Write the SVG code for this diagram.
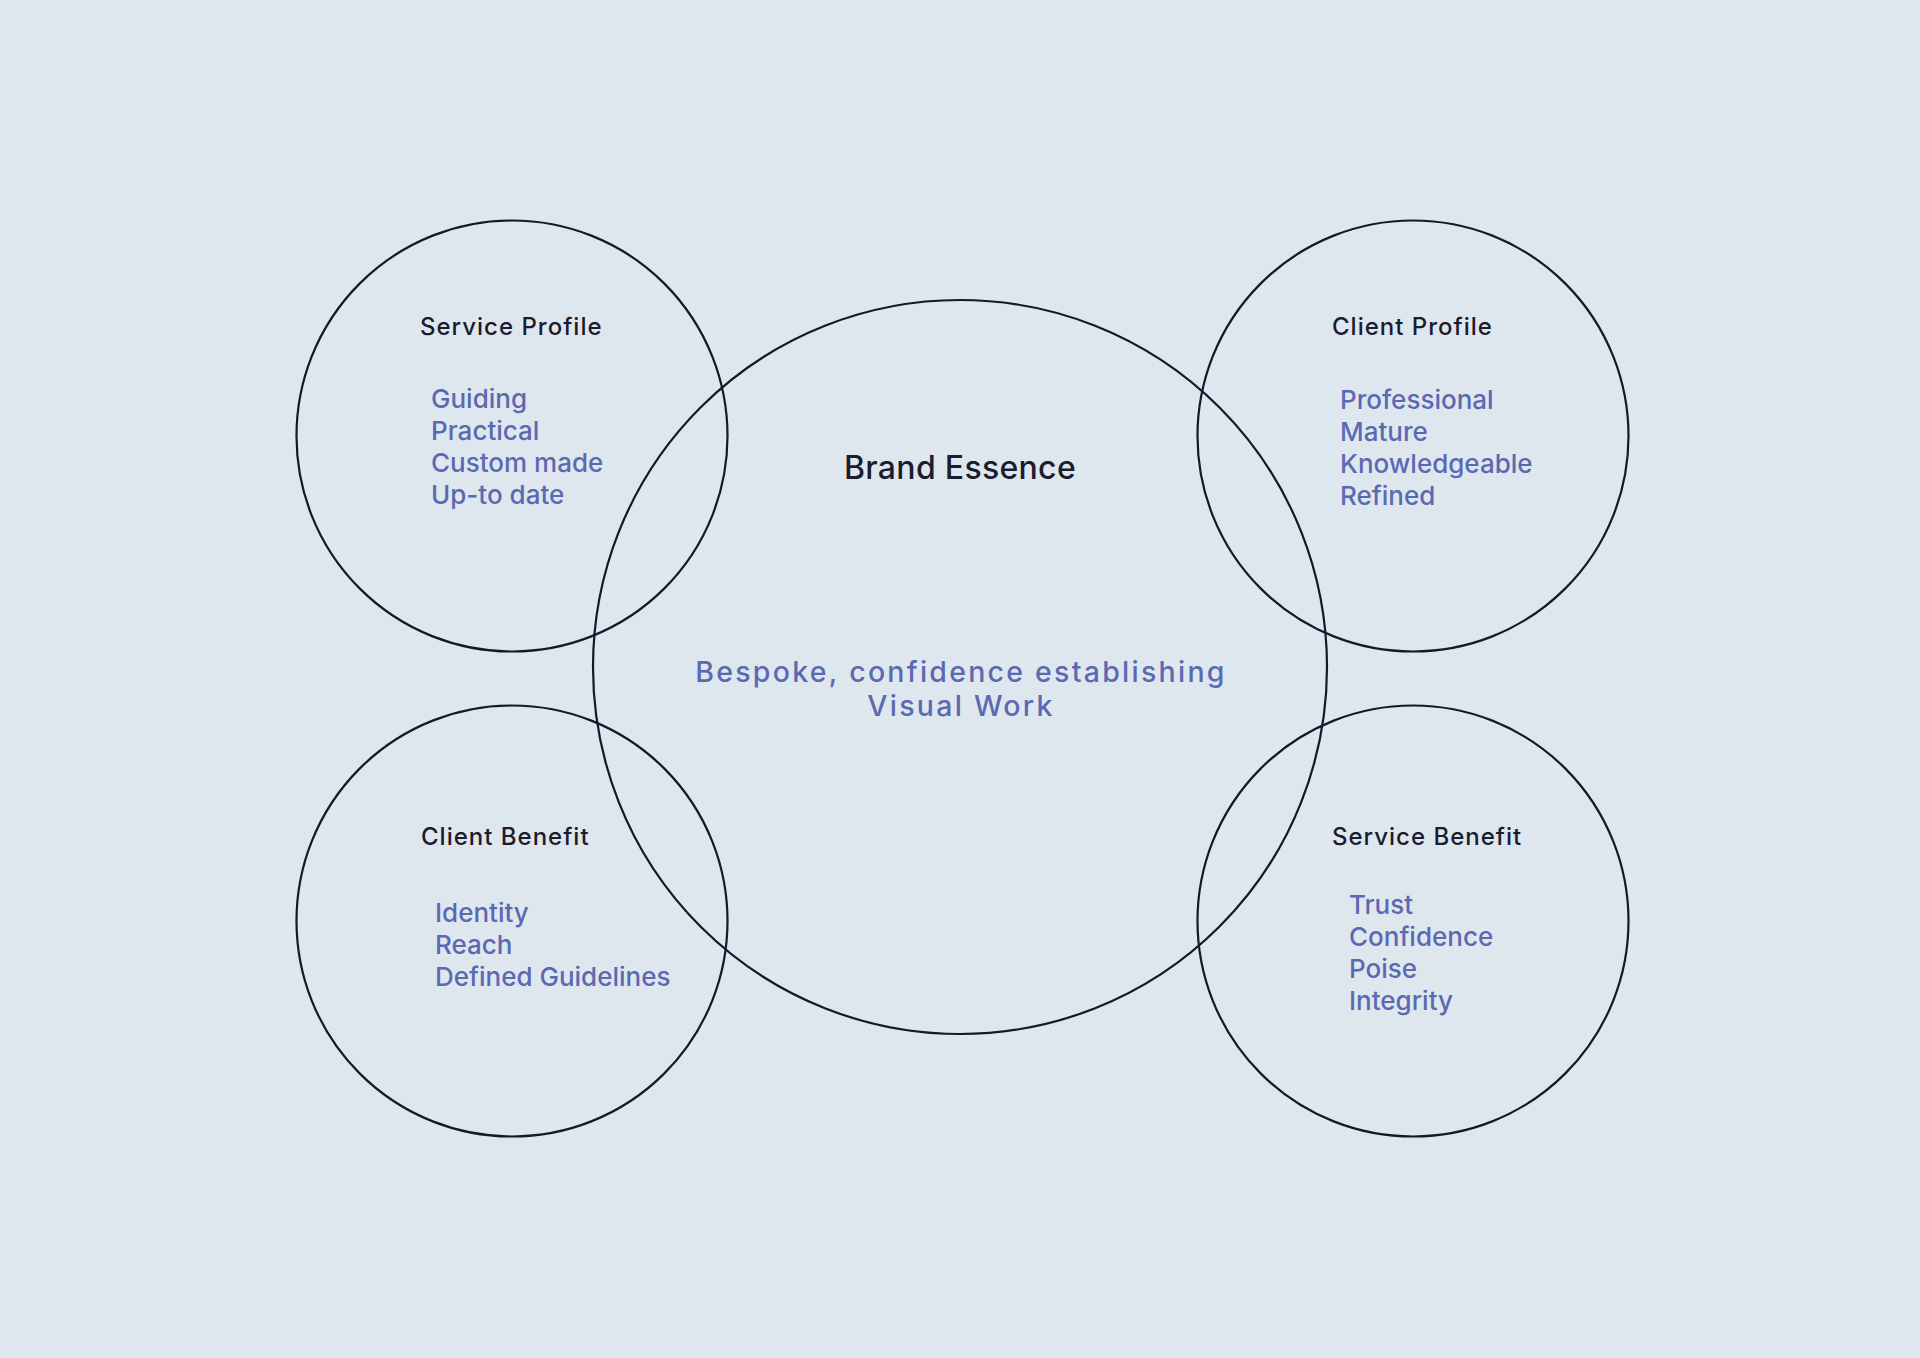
<svg xmlns="http://www.w3.org/2000/svg" width="1920" height="1358" viewBox="0 0 1920 1358">
<style>
.bg{fill:#dfe7ee}
.ring{fill:none;stroke:#16172b;stroke-width:2.2}
text{font-family:Inter,"Noto Sans","Liberation Sans",sans-serif;font-weight:500}
.h{font-size:24px;letter-spacing:1px;fill:#1b1c30}
.it{font-size:26px;letter-spacing:0px;fill:#5b69b3}
.big{font-size:32px;letter-spacing:0.3px;fill:#1b1c30}
.sub{font-size:28.5px;letter-spacing:2.25px;fill:#5b69b3}
</style>
<rect class="bg" x="0" y="0" width="1920" height="1358"/>
<g id="brand-essence">
<circle class="ring" cx="960" cy="667" r="367"/>
<text class="big" x="960" y="479" text-anchor="middle">Brand Essence</text>
<text class="sub" text-anchor="middle"><tspan x="961" y="681.5">Bespoke, confidence establishing</tspan><tspan x="961" y="716">Visual Work</tspan></text>
</g>
<g id="service-profile">
<circle class="ring" cx="512" cy="436" r="215.5"/>
<text class="h" x="420" y="335">Service Profile</text>
<text class="it"><tspan x="431" y="408">Guiding</tspan><tspan x="431" y="440">Practical</tspan><tspan x="431" y="472">Custom made</tspan><tspan x="431" y="504">Up-to date</tspan></text>
</g>
<g id="client-profile">
<circle class="ring" cx="1413" cy="436" r="215.5"/>
<text class="h" x="1332" y="335">Client Profile</text>
<text class="it"><tspan x="1340" y="409">Professional</tspan><tspan x="1340" y="441">Mature</tspan><tspan x="1340" y="473">Knowledgeable</tspan><tspan x="1340" y="505">Refined</tspan></text>
</g>
<g id="client-benefit">
<circle class="ring" cx="512" cy="921" r="215.5"/>
<text class="h" x="421" y="845">Client Benefit</text>
<text class="it"><tspan x="435" y="922">Identity</tspan><tspan x="435" y="954">Reach</tspan><tspan x="435" y="986">Defined Guidelines</tspan></text>
</g>
<g id="service-benefit">
<circle class="ring" cx="1413" cy="921" r="215.5"/>
<text class="h" x="1332" y="845">Service Benefit</text>
<text class="it"><tspan x="1349" y="914">Trust</tspan><tspan x="1349" y="946">Confidence</tspan><tspan x="1349" y="978">Poise</tspan><tspan x="1349" y="1010">Integrity</tspan></text>
</g>
<g id="connectors"></g>
</svg>
